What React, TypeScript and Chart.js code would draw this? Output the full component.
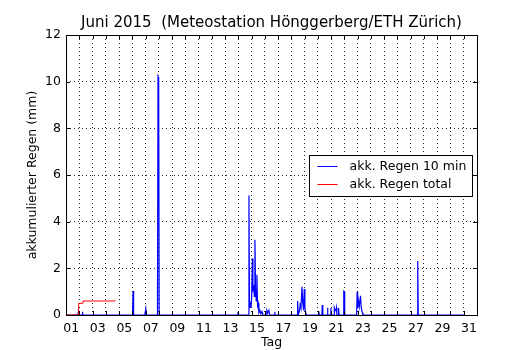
import { useEffect, useRef } from "react";
import { Chart, registerables } from "chart.js";

Chart.register(...registerables);

const TITLE = "Juni 2015  (Meteostation Hönggerberg/ETH Zürich)";
const Y_LABEL = "akkumulierter Regen (mm)";
const X_LABEL = "Tag";
const SERIES_LABELS = ["akk. Regen 10 min", "akk. Regen total"];
const SERIES_COLORS = ["#0000ff", "#ff0000"];

// x axis: days since 1 June 00:00; tick at the end of each day
const dayTicks = [1, 2, 3, 4, 5, 6, 7, 8, 9, 10, 11, 12, 13, 14, 15, 16, 17, 18, 19, 20, 21, 22, 23, 24, 25, 26, 27, 28, 29, 30, 31];
const xTickLabels = ["01", "03", "05", "07", "09", "11", "13", "15", "17", "19", "21", "23", "25", "27", "29", "31"];
const yTicks = [0, 2, 4, 6, 8, 10, 12];

// 10-minute rain (mm)
const rain10Times = [
  0, 0.9, 0.93, 0.95, 0.98, 1.0, 1.22, 1.24, 1.26,
  5.02, 5.06, 5.1, 5.94, 6.02, 6.06,
  6.9, 6.94, 6.99, 7.03,
  12.97, 12.98, 12.99,
  13.76, 13.8, 13.84, 13.88, 13.95, 14.0, 14.06, 14.1, 14.16, 14.2, 14.25, 14.3, 14.35, 14.4, 14.45, 14.5, 14.55, 14.62, 14.7, 14.78, 14.85,
  15.1, 15.15, 15.22, 15.3, 15.36, 15.74, 15.75, 15.76,
  17.44, 17.47, 17.52, 17.62, 17.66, 17.72, 17.8, 17.86, 17.92, 17.97, 18.02, 18.08, 18.12,
  19.07, 19.08, 19.09, 19.3, 19.33, 19.37, 19.72, 19.73, 19.75, 19.97, 19.98, 20.0,
  20.22, 20.24, 20.3, 20.36, 20.4, 20.43, 20.53, 20.56, 20.6,
  20.91, 20.95, 20.99, 21.02,
  21.92, 21.96, 22.0, 22.06, 22.12, 22.21, 22.27, 22.35, 22.4,
  26.5, 26.53, 26.57,
  30.0,
];
const rain10Values = [
  0, 0, 0.15, 0.05, 0.12, 0, 0, 0.14, 0,
  0, 1.03, 0, 0, 0.27, 0,
  0, 10.2, 10.1, 0,
  0, 0.14, 0,
  0, 5.12, 0.3, 0.5, 0.3, 0.7, 2.42, 1.1, 1.2, 0.8, 3.22, 1.1, 0.6, 1.72, 0.4, 0.5, 0.1, 0.2, 0.05, 0.15, 0,
  0, 0.2, 0.1, 0.2, 0, 0, 0.14, 0,
  0, 0.6, 0, 0.2, 0.43, 0.3, 1.21, 0.5, 0.2, 1.11, 0.3, 0.1, 0,
  0, 0.15, 0, 0, 0.43, 0, 0, 0.31, 0, 0, 0.3, 0,
  0, 0.31, 0.2, 0.18, 0.31, 0, 0, 0.3, 0,
  0, 1.02, 1.0, 0,
  0, 1.0, 0.3, 0.6, 0.35, 0.82, 0.3, 0.1, 0,
  0, 2.31, 0,
  0,
];

// accumulated total (mm)
const totalTimes = [0, 0.91, 0.93, 0.98, 1.24, 1.28, 3.73];
const totalValues = [0, 0, 0.3, 0.5, 0.5, 0.6, 0.6];

const FONT = "DejaVu Sans";

const decorations = {
  id: "decorations",
  beforeDatasetsDraw(chart: any) {
    const { ctx, chartArea: a } = chart;
    ctx.save();
    ctx.strokeStyle = "#000";
    ctx.lineWidth = 1;
    ctx.setLineDash([]);
    ctx.strokeRect(a.left + 0.5, a.top + 0.5, a.right - a.left, a.bottom - a.top);
    ctx.restore();
  },
  afterDatasetsDraw(chart: any) {
    const { ctx, chartArea: a, scales } = chart;
    ctx.save();
    ctx.strokeStyle = "#000";
    ctx.lineWidth = 1;
    ctx.setLineDash([]);
    // inward tick marks
    ctx.beginPath();
    for (const t of scales.x.ticks) {
      const px = Math.round(scales.x.getPixelForValue(t.value)) + 0.5;
      ctx.moveTo(px, a.bottom);
      ctx.lineTo(px, a.bottom - 4);
      ctx.moveTo(px, a.top);
      ctx.lineTo(px, a.top + 4);
    }
    for (const t of scales.y.ticks) {
      const py = Math.round(scales.y.getPixelForValue(t.value)) + 0.5;
      ctx.moveTo(a.left, py);
      ctx.lineTo(a.left + 4, py);
      ctx.moveTo(a.right, py);
      ctx.lineTo(a.right - 4, py);
    }
    ctx.stroke();
    // left, right and top borders on top of data
    ctx.beginPath();
    ctx.moveTo(a.left + 0.5, a.bottom);
    ctx.lineTo(a.left + 0.5, a.top + 0.5);
    ctx.lineTo(a.right + 0.5, a.top + 0.5);
    ctx.lineTo(a.right + 0.5, a.bottom);
    ctx.stroke();

    // legend (center right, inside the plot)
    const fs = 12.5;
    ctx.font = `${fs}px "${FONT}"`;
    const ds = chart.data.datasets;
    let maxW = 0;
    for (const d of ds) maxW = Math.max(maxW, ctx.measureText(d.label).width);
    const boxW = Math.round(40 + maxW + 6);
    const boxH = 41;
    const bx = Math.round(a.right - 5 - boxW) + 0.5;
    const by = Math.round((a.top + a.bottom) / 2 - boxH / 2) + 0.5;
    ctx.fillStyle = "#fff";
    ctx.fillRect(bx, by, boxW, boxH);
    ctx.strokeStyle = "#000";
    ctx.strokeRect(bx, by, boxW, boxH);
    ds.forEach((d: any, i: number) => {
      const ry = Math.round(by + 10 + i * 18) + 0.5;
      ctx.strokeStyle = d.borderColor;
      ctx.beginPath();
      ctx.moveTo(bx + 8, ry);
      ctx.lineTo(bx + 28, ry);
      ctx.stroke();
      ctx.fillStyle = "#000";
      ctx.textBaseline = "middle";
      ctx.textAlign = "left";
      ctx.fillText(d.label, bx + 40, ry);
    });
    ctx.restore();
  },
};

export default function App() {
  const ref = useRef<HTMLCanvasElement | null>(null);

  useEffect(() => {
    if (!ref.current) return;
    Chart.defaults.font.family = FONT;
    Chart.defaults.color = "#000";
    const gridStyle = {
      color: "rgba(0,0,0,0.85)",
      lineWidth: 1,
      drawTicks: false,
      tickLength: 0,
    };
    const chart = new Chart(ref.current, {
      type: "line",
      data: {
        datasets: [
          {
            label: SERIES_LABELS[0],
            data: rain10Times.map((t, i) => ({ x: t, y: rain10Values[i] })),
            borderColor: SERIES_COLORS[0],
            backgroundColor: SERIES_COLORS[0],
            borderWidth: 1.2,
            pointRadius: 0,
            tension: 0,
            order: 2,
          },
          {
            label: SERIES_LABELS[1],
            data: totalTimes.map((t, i) => ({ x: t, y: totalValues[i] })),
            borderColor: SERIES_COLORS[1],
            backgroundColor: SERIES_COLORS[1],
            borderWidth: 1,
            pointRadius: 0,
            tension: 0,
            order: 1,
          },
        ],
      },
      options: {
        animation: false,
        responsive: false,
        devicePixelRatio: 1,
        events: [],
        layout: { padding: { left: 0, right: 53, top: 0, bottom: 0 } },
        plugins: {
          legend: { display: false },
          tooltip: { enabled: false },
          title: {
            display: true,
            fullSize: false,
            text: TITLE,
            color: "#000",
            font: { family: FONT, size: 15, weight: "normal" },
            padding: { top: 14, bottom: 3 },
          },
        },
        scales: {
          x: {
            type: "linear",
            min: 0,
            max: 31,
            afterBuildTicks: (scale: any) => {
              scale.ticks = dayTicks.map((v) => ({ value: v }));
            },
            afterFit: (scale: any) => {
              scale.height = 35;
            },
            ticks: {
              autoSkip: false,
              maxRotation: 0,
              minRotation: 0,
              align: "end",
              padding: 6,
              color: "#000",
              font: { family: FONT, size: 12.5 },
              callback: (v: any) => (Number(v) % 2 === 1 ? xTickLabels[(Number(v) - 1) / 2] : ""),
            },
            grid: { ...gridStyle } as any,
            border: { display: false, dash: [1, 3] },
            title: {
              display: true,
              text: X_LABEL,
              color: "#000",
              font: { family: FONT, size: 12.5 },
              padding: { top: 0, bottom: 0 },
            },
          },
          y: {
            type: "linear",
            min: 0,
            max: 12,
            afterBuildTicks: (scale: any) => {
              scale.ticks = yTicks.map((v) => ({ value: v }));
            },
            afterFit: (scale: any) => {
              scale.width = 66;
            },
            ticks: {
              padding: 5,
              color: "#000",
              font: { family: FONT, size: 12.5 },
              callback: (v: any) => String(v),
            },
            grid: { ...gridStyle } as any,
            border: { display: false, dash: [1, 3] },
            title: {
              display: true,
              text: Y_LABEL,
              color: "#000",
              font: { family: FONT, size: 12.5 },
              padding: { top: 25, bottom: 0 },
            },
          },
        },
      },
      plugins: [decorations],
    } as any);
    return () => chart.destroy();
  }, []);

  return (
    <div style={{ position: "absolute", left: 0, top: 0, width: 530, height: 350, background: "#fff" }}>
      <canvas ref={ref} width={530} height={350} style={{ width: 530, height: 350, display: "block" }} />
    </div>
  );
}
